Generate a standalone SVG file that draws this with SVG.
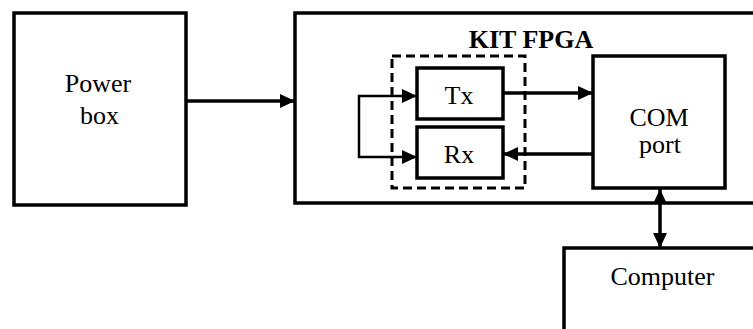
<svg xmlns="http://www.w3.org/2000/svg" width="753" height="329" viewBox="0 0 753 329">
<style>
.box{fill:#fff;stroke:#000;stroke-width:3.5}
.dash{fill:none;stroke:#000;stroke-width:3;stroke-dasharray:9 5}
.t{font-size:26px;fill:#000;text-anchor:middle}
.b{font-weight:bold}
.ln{fill:none;stroke:#000;stroke-width:3.5}
.thin{fill:none;stroke:#000;stroke-width:2.5}
</style>
<defs>
<marker id="ah" viewBox="0 0 15 14" refX="15" refY="7" markerWidth="15" markerHeight="14" markerUnits="userSpaceOnUse" orient="auto-start-reverse">
<path d="M0,0 L15,7 L0,14 Z" fill="#000"/>
</marker>
</defs>
<g font-family="Liberation Serif, Times New Roman, serif">
<g id="power-box">
<rect class="box" x="14" y="13" width="172" height="192"/>
<text class="t" x="98" y="92">Power</text>
<text class="t" x="99.5" y="124">box</text>
</g>
<g id="kit-fpga">
<rect class="box" x="295" y="13" width="480" height="190"/>
<text class="t b" x="531" y="48">KIT FPGA</text>
</g>
<g id="txrx-group">
<rect class="dash" x="392" y="56" width="133" height="132"/>
</g>
<g id="tx">
<rect class="box" x="417" y="68" width="86" height="51"/>
<text class="t" x="459" y="104">Tx</text>
</g>
<g id="rx">
<rect class="box" x="417" y="127" width="86" height="51"/>
<text class="t" x="459" y="163">Rx</text>
</g>
<g id="com-port">
<rect class="box" x="593" y="56" width="132" height="132"/>
<text class="t" x="659" y="126">COM</text>
<text class="t" x="660" y="153">port</text>
</g>
<g id="computer">
<rect class="box" x="564" y="248" width="220" height="120"/>
<text class="t" x="662.5" y="285">Computer</text>
</g>
</g>
<g id="connectors">
<path class="ln" d="M186,101 H295" marker-end="url(#ah)"/>
<path class="ln" d="M503,93 H593" marker-end="url(#ah)"/>
<path class="ln" d="M593,154 H503" marker-end="url(#ah)"/>
<path class="thin" d="M417,96 H359 V157 H417" marker-start="url(#ah)" marker-end="url(#ah)"/>
<path class="ln" d="M660,189 V248" marker-start="url(#ah)" marker-end="url(#ah)"/>
</g>
</svg>
